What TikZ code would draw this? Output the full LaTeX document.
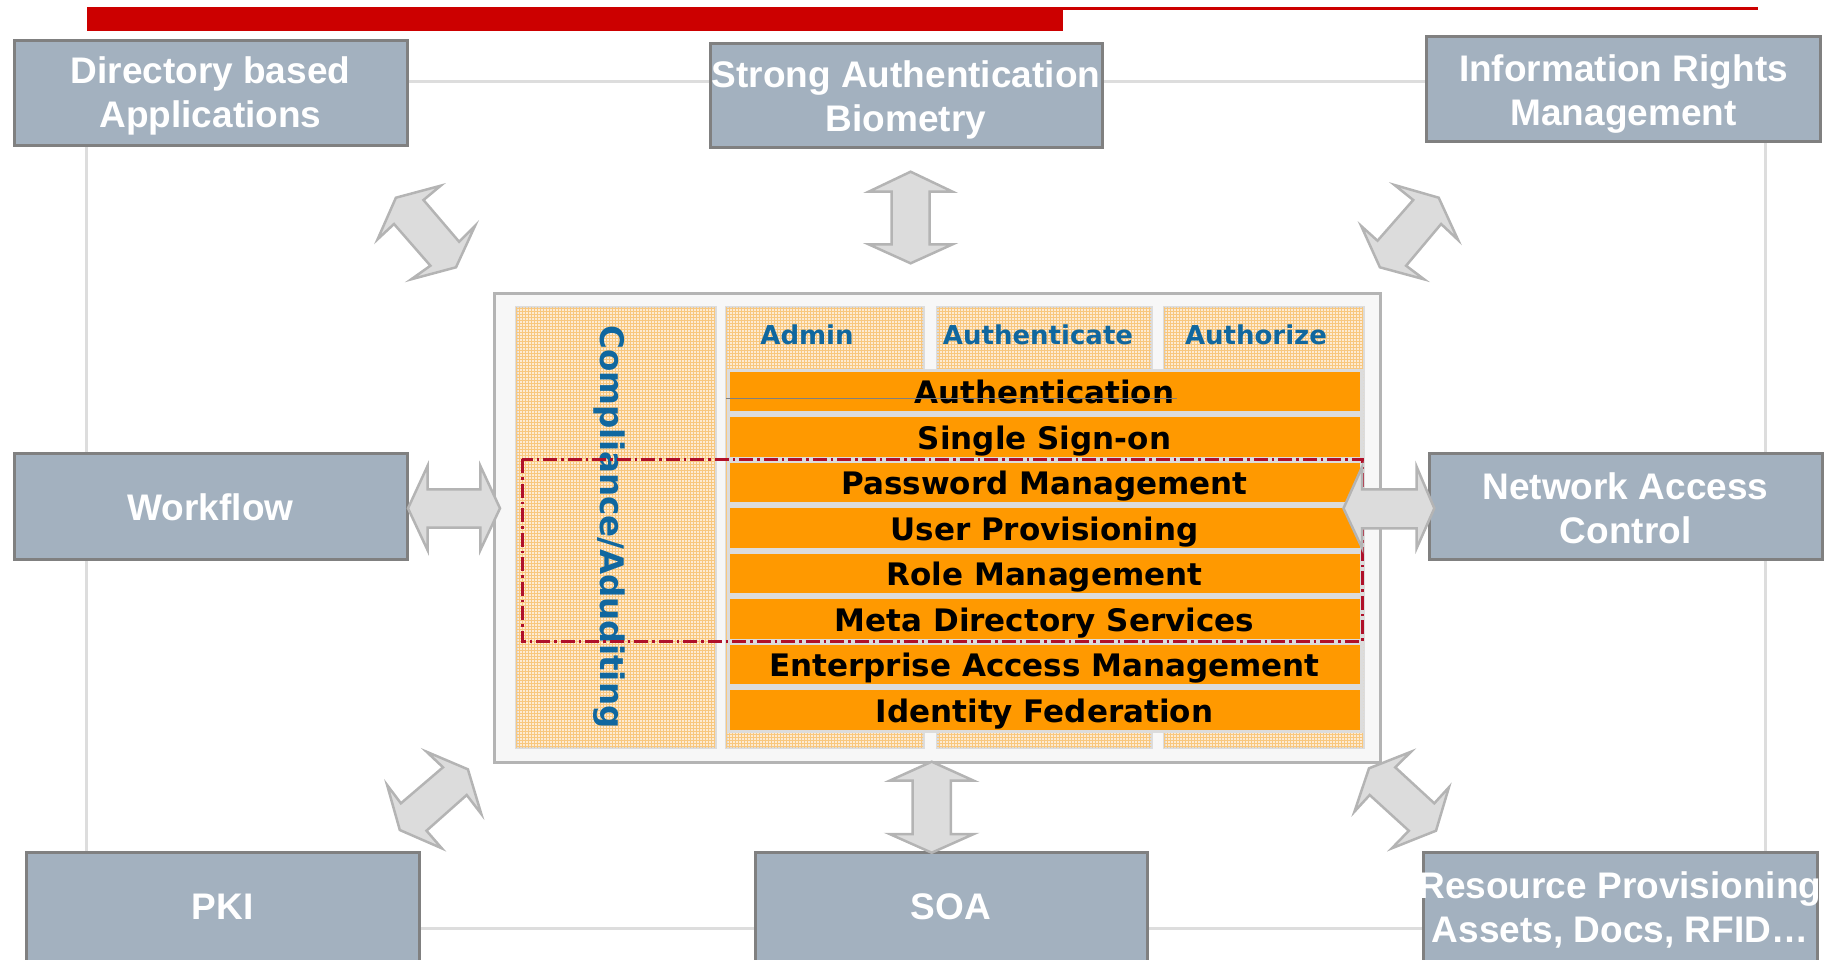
\documentclass[tikz,border=0pt]{standalone}
\usepackage{fontspec}
\setmainfont{DejaVu Sans}
\newfontfamily\lsans{Liberation Sans}
\usetikzlibrary{patterns}
\definecolor{redbar}{HTML}{CC0000}
\definecolor{boxfill}{HTML}{A3B1BF}
\definecolor{boxline}{HTML}{808080}
\definecolor{framecol}{HTML}{DDDDDD}
\definecolor{arrowfill}{HTML}{DCDCDC}
\definecolor{arrowline}{HTML}{B4B4B4}
\definecolor{corefill}{HTML}{F7F7F7}
\definecolor{panelline}{HTML}{DCDCDC}
\definecolor{panelfill}{HTML}{FDEBD3}
\definecolor{gridcol}{HTML}{F8C77E}
\definecolor{rowfill}{HTML}{FF9900}
\definecolor{dred}{HTML}{B0102A}
\definecolor{hblue}{HTML}{10679F}
\begin{document}
\begin{tikzpicture}[x=1pt,y=-1pt,
  box/.style={draw=boxline, fill=boxfill, line width=3pt, inner sep=0pt},
  boxtext/.style={text=white, inner sep=0pt,
    font=\lsans\bfseries\fontsize{37}{44}\selectfont, align=center},
  frame/.style={draw=framecol, line width=3pt},
  barrow/.style={fill=arrowfill, draw=arrowline, line width=2.5pt, line join=miter},
  core/.style={draw=arrowline, fill=corefill, line width=3pt, inner sep=0pt},
  panel/.style={draw=panelline, fill=panelfill, line width=3pt, inner sep=0pt,
    postaction={pattern=grid, pattern color=gridcol}},
  hdr/.style={text=hblue, font=\bfseries\fontsize{26}{30}\selectfont, inner sep=0pt},
  rowbox/.style={draw=panelline, fill=rowfill, line width=3pt, inner sep=0pt,
    minimum width=633pt, minimum height=42.5pt, text height=25pt, text depth=0pt,
    font=\bfseries\fontsize{31}{37}\selectfont},
]
\useasboundingbox (0,0) rectangle (1833,959);
\clip (0,0) rectangle (1833,959);

% red header bar
\fill[redbar] (86.5,6.7) rectangle (1063,30.7);
\fill[redbar] (1063,6.7) rectangle (1758,10);

% background frame linking outer boxes
\draw[frame] (86.5,81) rectangle (1765,928);

% outer boxes
\node[box, minimum width=393pt, minimum height=105pt] (dir) at (210.5,92.5) {};
\node[box, minimum width=392pt, minimum height=104pt] (str) at (906,95) {};
\node[box, minimum width=394pt, minimum height=105pt] (irm) at (1623.5,88.5) {};
\node[box, minimum width=393pt, minimum height=106pt] (wf) at (210.5,506) {};
\node[box, minimum width=393pt, minimum height=106pt] (nac) at (1625.5,506) {};
\node[box, minimum width=393pt, minimum height=113pt] (pki) at (222.5,908.5) {};
\node[box, minimum width=392pt, minimum height=113pt] (soa) at (951,908.5) {};
\node[box, minimum width=394pt, minimum height=113pt] (rp) at (1620,908.5) {};

\node[boxtext] (tdir) at (210.5,96) {Directory based\\Applications};
\node[boxtext] (tstr) at (906,99.7) {Strong Authentication\\Biometry};
\node[boxtext] (tirm) at (1623.5,94.3) {Information Rights\\Management};
\node[boxtext] (twf) at (210.5,507) {Workflow};
\node[boxtext] (tnac) at (1625.5,507.8) {Network Access\\Control};
\node[boxtext] (tpki) at (222.5,906.5) {PKI};
\node[boxtext] (tsoa) at (951,906.5) {SOA};
\node[boxtext] (trp) at (1620,909.5) {Resource Provisioning\\Assets, Docs, RFID\dots};

% core container
\node[core, minimum width=886pt, minimum height=469pt] (core) at (937,527.5) {};
\node[panel, minimum width=199pt, minimum height=440pt] (comp) at (615.5,527) {};
\node[panel, minimum width=197pt, minimum height=440pt] (admin) at (824.5,527) {};
\node[panel, minimum width=214pt, minimum height=440pt] (authn) at (1044,527) {};
\node[panel, minimum width=199pt, minimum height=440pt] (authz) at (1263.5,527) {};

\node[hdr] (hadmin) at (807,335) {Admin};
\node[hdr] (hauthn) at (1038,335) {Authenticate};
\node[hdr] (hauthz) at (1256,335) {Authorize};
\node[hdr, font=\bfseries\fontsize{32.5}{37}\selectfont, rotate=-90] (ctext) at (609,527) {Compliance/Aduditing};

% orange rows
\foreach \t [count=\i from 0] in {Authentication, Single Sign-on, Password Management,
  User Provisioning, Role Management, Meta Directory Services,
  Enterprise Access Management, Identity Federation}
  \node[rowbox] (r\i) at (1044.5,{391.25+45.5*\i}) {\t};

\draw[boxline, line width=1.2pt] (726,398.5) -- (1177,398.5);

% dash-dot region
\draw[dred, line width=3pt, dash pattern=on 14pt off 4pt on 2.5pt off 4pt]
  (522,459) rectangle (1362,641);

% block arrows
\draw[barrow] (395.9,197.7) -- (440.7,185.7) -- (423.5,200) -- (459.1,241.7) -- (475.1,225.7)
  -- (456.0,267.3) -- (411.2,279.3) -- (430.4,265.7) -- (394.0,224) -- (377.6,239.3) -- cycle;
\draw[barrow] (910.6,171.7) -- (952.6,191.7) -- (929.7,191.7) -- (929.7,244.3) -- (952.6,244.3)
  -- (910.6,263.3) -- (868.6,244.3) -- (891.5,244.3) -- (891.5,191.7) -- (868.6,191.7) -- cycle;
\draw[barrow] (1394.5,185) -- (1438.7,197.7) -- (1458.1,240) -- (1441.1,224) -- (1406.1,265.7)
  -- (1424.1,279.3) -- (1379.9,267.3) -- (1361.2,226) -- (1377.5,240.7) -- (1413.2,200) -- cycle;
\draw[barrow] (408,508.3) -- (427.5,466) -- (427.5,489.3) -- (480.4,489.3) -- (480.4,466)
  -- (500,508.3) -- (480.4,550) -- (480.4,527.7) -- (427.5,527.7) -- (427.5,550) -- cycle;
\draw[barrow] (1343.5,508.3) -- (1362.2,466.7) -- (1362.2,489.3) -- (1416.6,489.3) -- (1416.6,466.7)
  -- (1434.3,508.3) -- (1416.6,548.3) -- (1416.6,528.3) -- (1362.2,528.3) -- (1362.2,548.3) -- cycle;
\draw[barrow] (426.5,751.7) -- (467.9,769.3) -- (481.3,814) -- (466.7,795) -- (426.5,830.7)
  -- (441.8,848.3) -- (399.8,830) -- (387.1,785) -- (400.9,803.3) -- (443,767.3) -- cycle;
\draw[barrow] (931.7,761.7) -- (973.8,780.7) -- (950.8,780.7) -- (950.8,834) -- (973.8,834)
  -- (931.7,852.7) -- (889.6,834) -- (912.6,834) -- (912.6,780.7) -- (889.6,780.7) -- cycle;
\draw[barrow] (1411.1,751.7) -- (1395.2,767.3) -- (1434.3,803.3) -- (1448.9,787.3) -- (1436,830.7)
  -- (1391.8,848.3) -- (1408.8,830.7) -- (1369.7,795) -- (1354.4,811.7) -- (1369,768.3) -- cycle;
\end{tikzpicture}
\end{document}
